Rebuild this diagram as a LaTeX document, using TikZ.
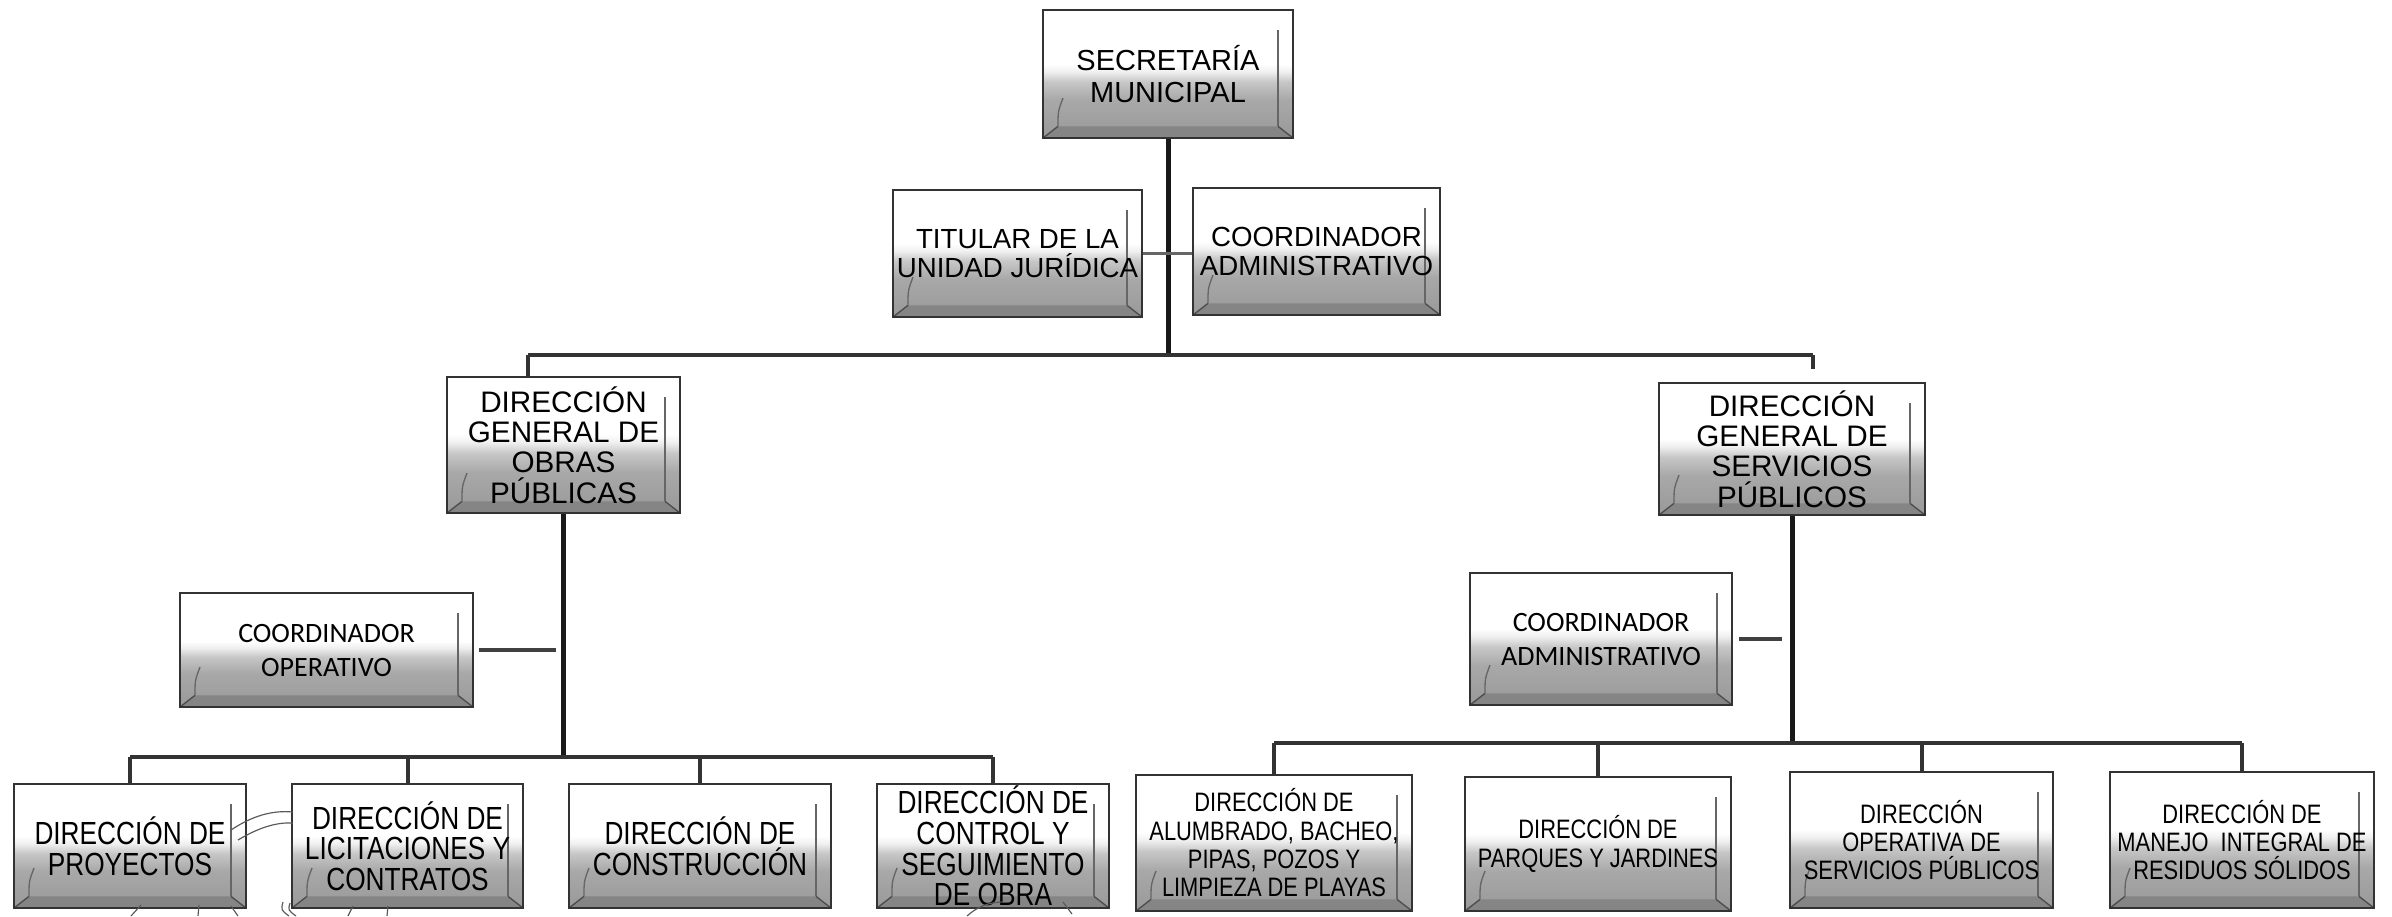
\documentclass[tikz,border=0pt]{standalone}
\usepackage{fontspec}
\setmainfont{Liberation Sans}
\newfontfamily\narrowf[FakeStretch=0.82]{Liberation Sans}
\newfontfamily\calib{Carlito}
\usetikzlibrary{calc}
\pgfdeclareverticalshading{bevsh}{100bp}{color(0bp)=(black!42); color(25bp)=(black!40); color(40bp)=(black!34); color(47bp)=(black!22); color(51bp)=(black!6); color(54bp)=(white); color(100bp)=(white)}
\tikzset{
  bev/.style={draw=black!80, line width=0.6pt, shading=bevsh, inner sep=0pt, align=center,
    path picture={
      \coordinate (pSW) at (path picture bounding box.south west);
      \coordinate (pNE) at (path picture bounding box.north east);
      \coordinate (pSE) at (path picture bounding box.south east);
      \fill[black!48] (pSW) -- (pSE) -- ([shift={(-4.5pt,3.5pt)}]pSE) -- ([shift={(4.5pt,3.5pt)}]pSW) -- cycle;
      \draw[black!70, line width=0.4pt] ([shift={(4.5pt,3.5pt)}]pSW) -- (pSW);
      \draw[black!70, line width=0.4pt] ([shift={(-4.5pt,3.5pt)}]pSE) -- (pSE);
      \draw[black!60, line width=0.4pt] ([shift={(4.5pt,3.5pt)}]pSW) .. controls ([shift={(4.5pt,8pt)}]pSW) .. ([shift={(6pt,12pt)}]pSW);
      \draw[black!60, line width=0.4pt] ([shift={(-4.5pt,3.5pt)}]pSE) -- ([shift={(-4.5pt,-6pt)}]pNE);
    }},
  fsm/.style={font={\fontsize{8.7}{9.4}\selectfont}},
  ftj/.style={font={\fontsize{8.3}{8.6}\selectfont}},
  fdg/.style={font={\fontsize{8.9}{9.1}\selectfont}},
  fcal/.style={font={\calib\fontsize{8.4}{10.2}\selectfont}},
  fob/.style={font={\narrowf\fontsize{9.6}{9.2}\selectfont}},
  fsv/.style={font={\narrowf\fontsize{8}{8.5}\selectfont}},
  trunk/.style={draw=black!90, line width=1.5pt},
  barline/.style={draw=black!80, line width=1.2pt},
  side/.style={draw=black!60, line width=0.7pt},
  seg/.style={draw=black!75, line width=1.1pt},
  scrib/.style={draw=black!65, line width=0.35pt},
}
\newcommand\obox[7]{\node[bev,#6, minimum width={(#4-#2)*0.3pt}, minimum height={(#5-#3)*0.3pt}] (#1) at ({(#2+#4)/2},{(#3+#5)/2}) {#7};}
\begin{document}
\begin{tikzpicture}[x=0.3pt,y=-0.3pt]
\useasboundingbox (0,0) rectangle (2392,916);
% top level
\obox{SM}{1043}{10}{1293}{138}{fsm}{SECRETARÍA\\MUNICIPAL}
\obox{TJ}{893}{190}{1142}{317}{ftj}{TITULAR DE LA\\UNIDAD JURÍDICA}
\obox{CAD}{1193}{188}{1440}{315}{ftj}{COORDINADOR\\ADMINISTRATIVO}
% second level
\obox{DGOP}{447}{377}{680}{513}{fdg}{DIRECCIÓN\\GENERAL DE\\OBRAS\\PÚBLICAS}
\obox{DGSP}{1659}{383}{1925}{515}{fdg}{DIRECCIÓN\\GENERAL DE\\SERVICIOS\\PÚBLICOS}
\obox{CO}{180}{593}{473}{707}{fcal}{COORDINADOR\\OPERATIVO}
\obox{CA}{1470}{573}{1732}{705}{fcal}{COORDINADOR\\ADMINISTRATIVO}
% bottom obras
\obox{P}{14}{784}{246}{908}{fob}{DIRECCIÓN DE\\PROYECTOS}
\obox{L}{292}{784}{523}{908}{fob}{DIRECCIÓN DE\\LICITACIONES Y\\CONTRATOS}
\obox{C}{569}{784}{831}{908}{fob}{DIRECCIÓN DE\\CONSTRUCCIÓN}
\obox{CS}{877}{784}{1109}{908}{fob}{DIRECCIÓN DE\\CONTROL Y\\SEGUIMIENTO\\DE OBRA}
% bottom servicios
\obox{A}{1136}{775}{1412}{911}{fsv}{DIRECCIÓN DE\\ALUMBRADO, BACHEO,\\PIPAS, POZOS Y\\LIMPIEZA DE PLAYAS}
\obox{PJ}{1465}{777}{1731}{911}{fsv}{DIRECCIÓN DE\\PARQUES Y JARDINES}
\obox{OS}{1790}{772}{2053}{908}{fsv}{DIRECCIÓN\\OPERATIVA DE\\SERVICIOS PÚBLICOS}
\obox{M}{2110}{772}{2374}{908}{fsv}{DIRECCIÓN DE\\MANEJO\ \ INTEGRAL DE\\RESIDUOS SÓLIDOS}
% connectors top
\coordinate (barL) at (528,355);
\coordinate (barR) at (1813,355);
\coordinate (stubR) at (1813,369);
\draw[trunk] (SM.south) -- (SM.south |- barL);
\draw[barline] (barL) -- (barR);
\draw[barline] (barL) -- (barL |- DGOP.north);
\draw[barline] (barR) -- (stubR);
\draw[side] (TJ.east) -- (TJ.east -| CAD.west);
% obras
\coordinate (obY) at (0,757);
\draw[trunk] (DGOP.south) -- (DGOP.south |- obY);
\draw[barline] (P.north |- obY) -- (CS.north |- obY);
\foreach \n in {P,L,C,CS} \draw[barline] (\n.north |- obY) -- (\n.north);
\draw[seg, shorten <=1.5pt, shorten >=2.4pt] (CO.east) -- (CO.east -| DGOP.south);
% servicios
\coordinate (svY) at (0,743);
\draw[trunk] (DGSP.south) -- (DGSP.south |- svY);
\draw[barline] (A.north |- svY) -- (M.north |- svY);
\foreach \n in {A,PJ,OS,M} \draw[barline] (\n.north |- svY) -- (\n.north);
\draw[seg, shorten <=1.8pt, shorten >=3pt] (CA.east) -- (CA.east -| DGSP.south);
% pencil marks
\draw[scrib] (231,830) .. controls (252,816) and (272,810) .. (293,812);
\draw[scrib] (238,840) .. controls (258,828) and (276,822) .. (293,823);
\draw[scrib] (131,916) -- (141,905);
\draw[scrib] (198,916) -- (199,905);
\draw[scrib] (238,916) -- (231,906);
\draw[scrib] (289,916) .. controls (281,910) .. (283,902);
\draw[scrib] (296,916) .. controls (288,910) .. (290,903);
\draw[scrib] (348,916) -- (353,906);
\draw[scrib] (387,916) -- (388,906);
\draw[scrib] (967,916) .. controls (978,906) and (990,902) .. (1003,902);
\draw[scrib] (1063,902) -- (1072,914);
\end{tikzpicture}
\end{document}
